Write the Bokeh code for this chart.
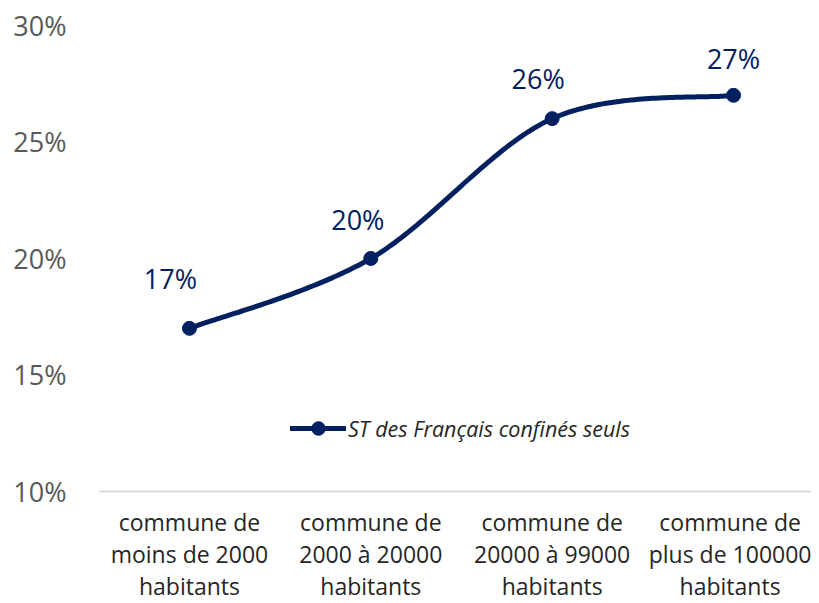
import numpy as np
from bokeh.plotting import figure
from bokeh.models import Range1d, FixedTicker, ColumnDataSource, Legend, LegendItem
from bokeh.core.properties import value
from bokeh.embed import file_html
from bokeh.resources import INLINE

categories = ["commune de\nmoins de 2000\nhabitants",
              "commune de\n2000 à 20000\nhabitants",
              "commune de\n20000 à 99000\nhabitants",
              "commune de\nplus de 100000\nhabitants"]
values = [17, 20, 26, 27]
value_labels = ["17%", "20%", "26%", "27%"]
series_name = "ST des Français confinés seuls"
y_ticks = [10, 15, 20, 25, 30]

NAVY = "#002060"
FONT = "Open Sans"

p = figure(frame_width=712, frame_height=474, output_backend="svg", toolbar_location=None,
           x_range=Range1d(-0.496, 3.43), y_range=Range1d(10, 30.34),
           min_border_left=99, min_border_right=0, min_border_top=17, min_border_bottom=104)
p.outline_line_color = None
p.xgrid.visible = False
p.ygrid.visible = False
p.background_fill_color = "white"

# smooth curve (cardinal / Catmull-Rom in screen-scaled space)
xs = np.arange(len(values), dtype=float)
ys = np.array(values, dtype=float)
sx, sy = 181.3, 23.3
P = np.column_stack([xs * sx, ys * sy])
Pext = np.vstack([P[0], P, P[-1]])
curve = []
for i in range(len(P) - 1):
    p0, p1, p2, p3 = Pext[i], Pext[i + 1], Pext[i + 2], Pext[i + 3]
    c1 = p1 + (p2 - p0) / 6.0
    c2 = p2 - (p3 - p1) / 6.0
    t = np.linspace(0, 1, 60)[:, None]
    seg = ((1 - t) ** 3) * p1 + 3 * ((1 - t) ** 2) * t * c1 + 3 * (1 - t) * (t ** 2) * c2 + (t ** 3) * p2
    curve.append(seg if i == 0 else seg[1:])
curve = np.vstack(curve)
cx, cy = curve[:, 0] / sx, curve[:, 1] / sy

line_r = p.line(cx, cy, line_color=NAVY, line_width=5, line_cap="round", line_join="round")
pts_r = p.scatter(xs, ys, size=14, fill_color=NAVY, line_color=NAVY)

src = ColumnDataSource(dict(x=xs, y=ys, t=value_labels,
                            xo=[-19, -13, -14, 0], yo=[-50, -39, -40, -37]))
p.text(x="x", y="y", text="t", x_offset="xo", y_offset="yo", source=src,
       text_align="center", text_baseline="middle", text_color=NAVY,
       text_font=value(FONT), text_font_size="27px")

legend = Legend(items=[LegendItem(label=series_name, renderers=[line_r, pts_r])],
                location=(191, 46), orientation="horizontal")
legend.glyph_width = 56
legend.glyph_height = 34
legend.padding = 0
legend.margin = 0
legend.spacing = 0
legend.label_standoff = 2
legend.border_line_color = None
legend.background_fill_alpha = 0
legend.label_text_font = FONT
legend.label_text_font_style = "italic"
legend.label_text_font_size = "21.5px"
legend.label_text_color = "#262626"
p.add_layout(legend)

p.xaxis.ticker = FixedTicker(ticks=list(range(len(categories))))
p.xaxis.major_label_overrides = {i: c for i, c in enumerate(categories)}
p.xaxis.major_label_text_font = FONT
p.xaxis.major_label_text_font_size = "23px"
p.xaxis.major_label_text_line_height = 1.0
p.xaxis.major_label_text_color = "#262626"
p.xaxis.major_label_standoff = 8
p.xaxis.axis_line_color = "#D9D9D9"
p.xaxis.axis_line_width = 2
p.xaxis.major_tick_line_color = None
p.xaxis.minor_tick_line_color = None

p.yaxis.ticker = FixedTicker(ticks=y_ticks)
p.yaxis.major_label_overrides = {t: f"{t}%" for t in y_ticks}
p.yaxis.major_label_text_font = FONT
p.yaxis.major_label_text_font_size = "27px"
p.yaxis.major_label_text_color = "#595959"
p.yaxis.major_label_standoff = 27
p.yaxis.axis_line_color = None
p.yaxis.major_tick_line_color = None
p.yaxis.minor_tick_line_color = None

open("out.html", "w").write(file_html(p, INLINE))
